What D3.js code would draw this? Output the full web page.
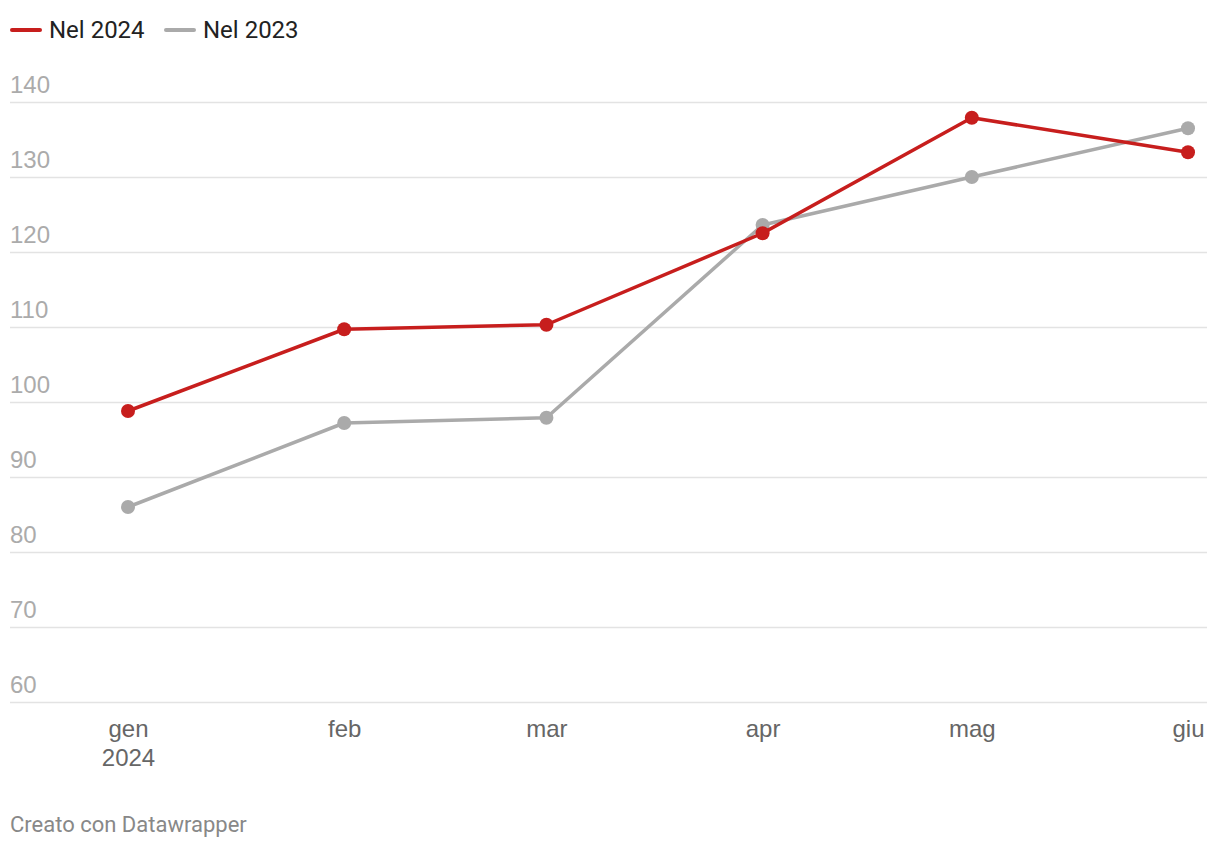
<!DOCTYPE html>
<html>
<head>
<meta charset="utf-8">
<script src="https://cdn.jsdelivr.net/npm/d3@7"></script>
<style>
  html, body { margin: 0; padding: 0; background: #fff; }
  svg { display: block; font-family: Roboto, "Noto Sans", sans-serif; }
</style>
</head>
<body>
<svg id="chart" width="1220" height="848"></svg>
<script>
const months = ["2024-01-01", "2024-02-01", "2024-03-01", "2024-04-01", "2024-05-01", "2024-06-01"];
const monthLabels = ["gen", "feb", "mar", "apr", "mag", "giu"];
const values2024 = [98.8, 109.7, 110.3, 122.5, 137.9, 133.3];
const values2023 = [86.0, 97.2, 97.9, 123.6, 130.0, 136.5];
const yTicks = [60, 70, 80, 90, 100, 110, 120, 130, 140];
const seriesNames = ["Nel 2024", "Nel 2023"];
const seriesColors = ["#c71e1d", "#aaaaaa"];

const parse = d3.timeParse("%Y-%m-%d");
const dates = months.map(parse);

const svg = d3.select("#chart");

const x = d3.scaleTime()
  .domain([dates[0], dates[dates.length - 1]])
  .range([128, 1188]);
const y = d3.scaleLinear()
  .domain([60, 140])
  .range([702, 102]);

// gridlines + y labels
const yAxis = d3.axisLeft(y).tickValues(yTicks).tickSize(0).tickFormat(d3.format("d"));
const gy = svg.append("g").call(yAxis);
gy.select(".domain").remove();
gy.selectAll(".tick line").remove();
gy.selectAll(".tick").each(function (d) {
  const g = d3.select(this);
  g.append("line")
    .attr("x1", 10).attr("x2", 1207)
    .attr("y1", 0).attr("y2", 0)
    .attr("stroke", "#e3e3e3").attr("stroke-width", 1.5);
  g.select("text")
    .attr("x", 10).attr("dy", null).attr("y", -10)
    .attr("text-anchor", "start")
    .attr("fill", "#ababab")
    .style("font-size", "24px");
});
gy.selectAll(".tick text").raise();

// x axis
const xAxis = d3.axisBottom(x).tickValues(dates).tickSize(0)
  .tickFormat((d, i) => monthLabels[i]);
const gx = svg.append("g").attr("transform", "translate(0,702)").call(xAxis);
gx.select(".domain").remove();
gx.selectAll(".tick text")
  .attr("y", 35).attr("dy", null)
  .attr("fill", "#666666")
  .style("font-size", "24px");
gx.selectAll(".tick").filter((d, i) => i === 0)
  .append("text")
  .attr("y", 64)
  .attr("text-anchor", "middle")
  .attr("fill", "#666666")
  .style("font-size", "24px")
  .text("2024");

// lines
const line = d3.line().x((d, i) => x(dates[i])).y(d => y(d));
const seriesData = [values2023, values2024];
const seriesCols = [seriesColors[1], seriesColors[0]];
seriesData.forEach((vals, k) => {
  svg.append("path")
    .datum(vals)
    .attr("d", line)
    .attr("fill", "none")
    .attr("stroke", seriesCols[k])
    .attr("stroke-width", 3.5)
    .attr("stroke-linejoin", "round");
  svg.append("g").selectAll("circle")
    .data(vals)
    .join("circle")
    .attr("cx", (d, i) => x(dates[i]))
    .attr("cy", d => y(d))
    .attr("r", 7)
    .attr("fill", seriesCols[k]);
});

// legend
const legendX = [10, 164];
seriesNames.forEach((name, i) => {
  const g = svg.append("g").attr("transform", `translate(${legendX[i]},29)`);
  g.append("line")
    .attr("x1", 2).attr("x2", 30)
    .attr("y1", 1).attr("y2", 1)
    .attr("stroke", seriesColors[i])
    .attr("stroke-width", 4)
    .attr("stroke-linecap", "round");
  g.append("text")
    .attr("x", 39).attr("y", 9)
    .attr("fill", "#222222")
    .style("font-size", "24px")
    .text(name);
});

// credit
svg.append("text")
  .attr("x", 10).attr("y", 832)
  .attr("fill", "#888888")
  .style("font-size", "22px")
  .text("Creato con Datawrapper");
</script>
</body>
</html>
